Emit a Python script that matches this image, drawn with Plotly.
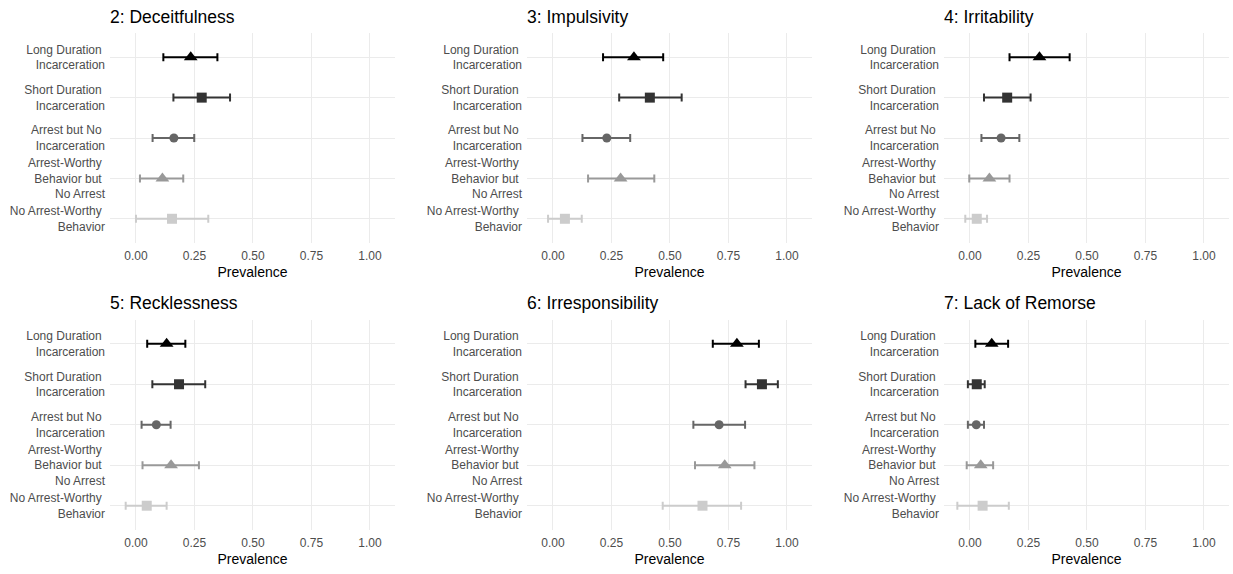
import plotly.graph_objects as go

W, H = 1233, 574

NB = "\u00a0"
categories = [
    f"Long Duration{NB}<br>Incarceration",
    f"Short Duration{NB}<br>Incarceration",
    f"Arrest but No{NB}<br>Incarceration",
    f"Arrest-Worthy{NB}<br>Behavior but{NB}<br>No Arrest",
    f"No Arrest-Worthy{NB}<br>Behavior",
]
titles = ["2: Deceitfulness", "3: Impulsivity", "4: Irritability",
          "5: Recklessness", "6: Irresponsibility", "7: Lack of Remorse"]

# estimates, lower, upper per category (order as categories)
deceit_est = [0.234, 0.281, 0.162, 0.113, 0.154]
deceit_lo = [0.117, 0.160, 0.071, 0.017, 0.000]
deceit_hi = [0.348, 0.402, 0.249, 0.202, 0.309]

impuls_est = [0.346, 0.414, 0.230, 0.289, 0.051]
impuls_lo = [0.214, 0.283, 0.126, 0.150, -0.021]
impuls_hi = [0.471, 0.550, 0.330, 0.433, 0.123]

irrit_est = [0.297, 0.159, 0.133, 0.083, 0.029]
irrit_lo = [0.169, 0.060, 0.049, -0.003, -0.020]
irrit_hi = [0.426, 0.259, 0.211, 0.169, 0.073]

reckl_est = [0.131, 0.184, 0.087, 0.150, 0.046]
reckl_lo = [0.048, 0.070, 0.024, 0.028, -0.044]
reckl_hi = [0.211, 0.296, 0.148, 0.269, 0.131]

irresp_est = [0.786, 0.893, 0.710, 0.734, 0.639]
irresp_lo = [0.683, 0.823, 0.600, 0.607, 0.469]
irresp_hi = [0.880, 0.961, 0.821, 0.861, 0.804]

remorse_est = [0.093, 0.029, 0.027, 0.046, 0.054]
remorse_lo = [0.023, -0.009, -0.009, -0.014, -0.054]
remorse_hi = [0.163, 0.063, 0.060, 0.099, 0.166]

panels = [
    (deceit_est, deceit_lo, deceit_hi),
    (impuls_est, impuls_lo, impuls_hi),
    (irrit_est, irrit_lo, irrit_hi),
    (reckl_est, reckl_lo, reckl_hi),
    (irresp_est, irresp_lo, irresp_hi),
    (remorse_est, remorse_lo, remorse_hi),
]

x_ticks = [0, 0.25, 0.5, 0.75, 1.0]
x_ticklabels = ["0.00", "0.25", "0.50", "0.75", "1.00"]

colors = ["#000000", "#333333", "#666666", "#999999", "#CCCCCC"]
symbols = ["triangle-up", "square", "circle", "triangle-up", "square"]
sizes = [12, 10, 9, 12, 10]

ypos = [5, 4, 3, 2, 1]

col_px = [(110, 395), (527, 812), (944, 1229)]
row_px = [(33, 243), (319.5, 530)]
title_px = [17, 303]

fig = go.Figure()
FONT = "Liberation Sans, Arial, sans-serif"

for i, (est, lo, hi) in enumerate(panels):
    r, c = divmod(i, 3)
    n = i + 1
    xa = "x" if n == 1 else f"x{n}"
    ya = "y" if n == 1 else f"y{n}"
    for k in range(5):
        fig.add_trace(go.Scatter(
            x=[est[k]], y=[ypos[k]], mode="markers",
            xaxis=xa, yaxis=ya, showlegend=False,
            marker=dict(symbol=symbols[k], size=sizes[k], color=colors[k], line=dict(width=0)),
            error_x=dict(type="data", symmetric=False,
                         array=[hi[k] - est[k]], arrayminus=[est[k] - lo[k]],
                         color=colors[k], thickness=2, width=4),
        ))
    x0, x1 = col_px[c]
    t, b = row_px[r]
    fig.layout[f"xaxis{'' if n == 1 else n}"] = dict(
        domain=[x0 / W, x1 / W], anchor=ya, range=[-0.111, 1.107],
        tickvals=x_ticks, ticktext=x_ticklabels, showgrid=True,
        gridcolor="#EBEBEB", gridwidth=1, zeroline=False, showline=False,
        ticks="", ticklabelstandoff=4,
        tickfont=dict(family=FONT, size=12, color="#4D4D4D"),
        title=dict(text="Prevalence", font=dict(family=FONT, size=14, color="#000000"), standoff=5),
    )
    fig.layout[f"yaxis{'' if n == 1 else n}"] = dict(
        domain=[1 - b / H, 1 - t / H], anchor=xa, range=[0.4, 5.6],
        tickvals=ypos, ticktext=categories, showgrid=True,
        gridcolor="#EBEBEB", gridwidth=1, zeroline=False, showline=False,
        ticks="", ticklabelstandoff=4,
        tickfont=dict(family=FONT, size=12, color="#4D4D4D"),
    )
    fig.add_annotation(
        text=titles[i], xref="paper", yref="paper",
        x=x0 / W, y=1 - title_px[r] / H, xanchor="left", yanchor="middle",
        xshift=-2, showarrow=False, font=dict(family=FONT, size=17.5, color="#000000"),
    )

fig.update_layout(
    width=W, height=H, margin=dict(l=0, r=0, t=0, b=0),
    paper_bgcolor="white", plot_bgcolor="white",
)

fig.write_html("out.html", config={"displayModeBar": False},
               post_script="document.body.style.margin='0';")
